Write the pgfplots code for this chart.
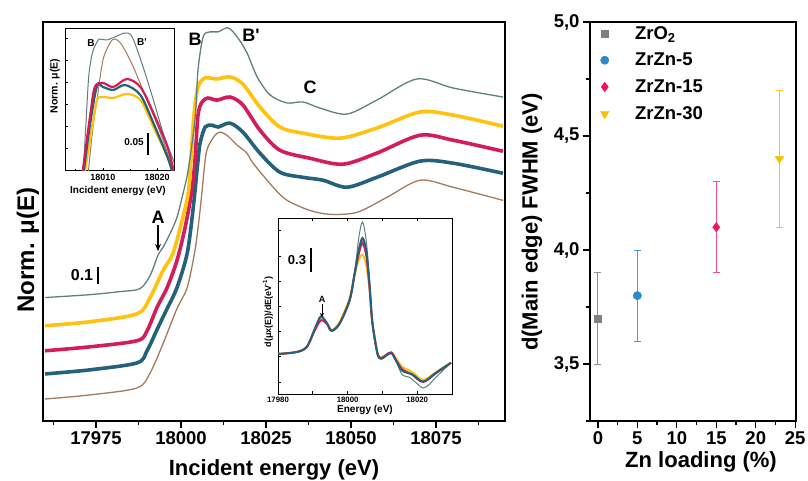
\documentclass[border=0pt]{standalone}
\usepackage{pgfplots}
\pgfplotsset{compat=1.18}
\usepackage{fontspec}
\setmainfont{Liberation Sans}
\usetikzlibrary{arrows.meta}
\definecolor{cgray}{HTML}{5F7F80}
\definecolor{cyel}{HTML}{FFC20E}
\definecolor{ccrim}{HTML}{D41C5A}
\definecolor{cteal}{HTML}{24617A}
\definecolor{cbrown}{HTML}{A47A5C}
\definecolor{pgray}{HTML}{808080}
\definecolor{pblue}{HTML}{2A8BC6}
\definecolor{pred}{HTML}{F2145C}
\definecolor{pyel}{HTML}{F6C200}
\begin{document}
\begin{tikzpicture}[x=1pt,y=1pt]
\useasboundingbox (0,0) rectangle (808,480);
\pgfplotsset{every axis/.append style={scale only axis, anchor=south west,
  /pgf/number format/assume math mode=true, clip=true}}
% ---------------- main panel ----------------
\begin{axis}[at={(43pt,59pt)}, width=462pt, height=399pt,
  xmin=17959.4, xmax=18095.3, ymin=0, ymax=2.34,
  ytick=\empty, xtick={17975,18000,18025,18050,18075},
  minor xtick={17962.5,17987.5,18012.5,18037.5,18062.5,18087.5},
  xtick pos=left, tick align=outside, major tick length=7pt, minor tick length=4pt,
  every tick/.style={black, line width=1.3pt},
  axis line style={line width=1.6pt},
  xticklabel style={font=\fontsize{18.5}{20}\selectfont\bfseries, /pgf/number format/1000 sep={}},
  scaled x ticks=false]
\addplot[cbrown, line width=1.3pt, smooth] coordinates {
(17960.0,0.129) (17973.2,0.153) (17987.1,0.194) (17990.9,0.282) (17994.7,0.453)
(17998.8,0.659) (18001.8,0.782) (18004.1,1.000) (18005.6,1.235) (18007.1,1.529)
(18007.9,1.606) (18010.0,1.676) (18011.5,1.694) (18013.5,1.676) (18016.5,1.618)
(18019.4,1.571) (18021.2,1.512) (18027.1,1.371) (18031.2,1.294) (18037.9,1.235)
(18043.8,1.212) (18051.8,1.224) (18060.6,1.312) (18070.3,1.412) (18080.0,1.371)
(18094.7,1.294)};
\addplot[cteal, line width=3.6pt, smooth] coordinates {
(17960.0,0.276) (17973.2,0.300) (17987.1,0.341) (17990.0,0.412) (17993.2,0.547)
(17995.9,0.659) (17998.8,0.782) (18001.8,0.982) (18003.5,1.235) (18005.0,1.529)
(18005.6,1.629) (18007.1,1.724) (18009.1,1.735) (18010.9,1.724) (18014.4,1.747)
(18018.2,1.694) (18023.2,1.571) (18029.1,1.459) (18035.9,1.429) (18041.8,1.412)
(18048.8,1.371) (18057.6,1.429) (18070.3,1.524) (18080.0,1.512) (18094.7,1.453)};
\addplot[ccrim, line width=3.6pt, smooth] coordinates {
(17960.0,0.412) (17973.2,0.435) (17987.1,0.471) (17990.0,0.529) (17992.9,0.665)
(17995.9,0.782) (17998.8,0.941) (18001.2,1.135) (18003.2,1.353) (18004.1,1.529)
(18005.0,1.794) (18006.2,1.871) (18007.9,1.894) (18010.6,1.882) (18014.4,1.900)
(18018.2,1.853) (18023.2,1.706) (18029.1,1.588) (18037.9,1.541) (18047.6,1.506)
(18057.6,1.571) (18070.3,1.676) (18080.0,1.647) (18094.7,1.582)};
\addplot[cyel, line width=3.6pt, smooth] coordinates {
(17960.0,0.559) (17973.2,0.582) (17987.1,0.629) (17990.9,0.724) (17994.7,0.882)
(17997.6,0.982) (18000.3,1.176) (18002.1,1.335) (18002.9,1.529) (18003.8,1.794)
(18005.0,1.959) (18007.1,2.012) (18010.6,2.006) (18014.4,2.018) (18018.2,1.976)
(18023.2,1.841) (18029.1,1.724) (18035.9,1.688) (18046.8,1.659) (18057.6,1.718)
(18070.3,1.812) (18080.0,1.794) (18094.7,1.729)};
\addplot[cgray, line width=1.3pt, smooth] coordinates {
(17960.0,0.724) (17973.2,0.741) (17982.1,0.759) (17987.9,0.776) (17990.9,0.853)
(17993.2,0.971) (17994.7,1.018) (17996.8,1.100) (17998.8,1.194) (18000.6,1.335)
(18002.1,1.471) (18004.1,1.765) (18005.0,2.059) (18006.5,2.253) (18008.5,2.282)
(18010.9,2.282) (18013.8,2.306) (18016.5,2.253) (18019.4,2.159) (18022.4,2.018)
(18026.2,1.912) (18031.2,1.865) (18035.9,1.871) (18040.9,1.835) (18048.8,1.800)
(18057.6,1.882) (18069.4,2.006) (18080.0,1.953) (18094.7,1.900)};
\end{axis}
% ---------------- upper inset ----------------
\begin{axis}[at={(65pt,309pt)}, width=109pt, height=142pt,
  xmin=18003, xmax=18023.1, ymin=0, ymax=0.355,
  axis background/.style={fill=white},
  xtick={18010,18020}, minor xtick={18005,18015},
  ytick={0.0575,0.1125,0.1675,0.2225,0.2775,0.3325}, yticklabels={},
  xtick pos=left, ytick pos=left, tick align=inside,
  major tick length=3pt, minor tick length=2pt,
  every tick/.style={black, line width=0.7pt},
  axis line style={line width=1pt},
  xticklabel style={font=\fontsize{9}{10}\selectfont\bfseries, /pgf/number format/1000 sep={}},
  scaled x ticks=false]
\addplot[cbrown, line width=1pt, smooth] coordinates {
(18007.2,-0.0175) (18008.1,0.1025) (18008.9,0.1775) (18010.0,0.2775) (18011.3,0.32)
(18012.2,0.33) (18013.5,0.315) (18015.6,0.26) (18018.1,0.1775) (18020.6,0.095) (18022.8,0.01) (18023.5,-0.01)};
\addplot[cgray, line width=1pt, smooth] coordinates {
(18006.3,-0.0175) (18006.9,0.1275) (18007.4,0.24) (18008.1,0.2975) (18008.9,0.3225)
(18009.4,0.33) (18010.7,0.3275) (18012.6,0.3375) (18014.1,0.345) (18015.4,0.335)
(18017.4,0.26) (18019.3,0.1775) (18021.1,0.095) (18023.1,0.0225) (18023.6,0.0)};
\addplot[cyel, line width=2.2pt, smooth] coordinates {
(18006.5,-0.0175) (18008.0,0.11) (18008.9,0.1775) (18010.0,0.185) (18011.9,0.1825)
(18014.4,0.1925) (18016.9,0.1775) (18019.3,0.11) (18021.9,0.035) (18022.8,0.0025) (18023.3,-0.01)};
\addplot[cteal, line width=2.2pt, smooth] coordinates {
(18006.3,-0.0175) (18007.6,0.115) (18008.9,0.2125) (18010.0,0.21) (18011.9,0.2025)
(18014.1,0.215) (18016.9,0.19) (18019.3,0.12) (18021.9,0.035) (18022.8,-0.0025) (18023.3,-0.015)};
\addplot[ccrim, line width=2.2pt, smooth] coordinates {
(18006.1,-0.0175) (18007.6,0.135) (18008.5,0.21) (18010.0,0.22) (18011.9,0.21)
(18014.4,0.23) (18016.9,0.21) (18019.3,0.145) (18021.9,0.06) (18023.1,-0.0025) (18023.5,-0.015)};
\end{axis}
% ---------------- lower inset ----------------
\begin{axis}[at={(278pt,86pt)}, width=174pt, height=176pt,
  xmin=17980, xmax=18030, ymin=0, ymax=2.2,
  axis background/.style={fill=white},
  xtick={17980,18000,18020}, minor xtick={17990,18010,18030},
  ytick={0.15,0.465,0.78,1.095,1.41,1.725,2.04}, yticklabels={},
  xtick pos=both, ytick pos=left, tick align=inside,
  major tick length=3pt, minor tick length=3pt,
  every tick/.style={black, line width=0.7pt},
  axis line style={line width=1pt},
  xticklabel style={font=\fontsize{7.8}{9}\selectfont\bfseries, /pgf/number format/1000 sep={}},
  scaled x ticks=false]
\addplot[cgray, line width=1pt, smooth] coordinates {
(17980,0.5) (17985.4,0.525) (17988.3,0.59) (17990.6,0.8) (17992.3,0.94) (17994.0,0.88)
(17995.4,0.79) (17997.7,0.88) (18000.6,1.17) (18002.0,1.5) (18003.2,1.95) (18004.3,2.15)
(18005.4,1.9) (18006.3,1.4) (18007.1,0.9) (18008.6,0.5) (18009.7,0.44) (18011.1,0.48)
(18012.6,0.51) (18014.0,0.4) (18015.7,0.24) (18017.7,0.21) (18019.7,0.14) (18021.7,0.075)
(18023.5,0.12) (18025.4,0.21) (18029.7,0.39)};
\addplot[cyel, line width=2pt, smooth] coordinates {
(17980,0.5) (17985.4,0.525) (17988.3,0.59) (17990.6,0.8) (17992.3,0.93) (17994.0,0.89)
(17995.4,0.8) (17997.7,0.9) (18000.6,1.2) (18002.0,1.48) (18003.2,1.68) (18004.3,1.74)
(18005.4,1.6) (18006.3,1.3) (18007.1,0.9) (18008.6,0.52) (18009.7,0.46) (18011.1,0.49)
(18012.6,0.52) (18014.0,0.44) (18015.7,0.34) (18018.6,0.275) (18021.7,0.175)
(18025.4,0.275) (18029.7,0.39)};
\addplot[ccrim, line width=2pt, smooth] coordinates {
(17980,0.5) (17985.4,0.525) (17988.3,0.59) (17990.6,0.8) (17992.3,0.92) (17994.0,0.88)
(17995.4,0.79) (17997.7,0.88) (18000.6,1.18) (18002.0,1.5) (18003.2,1.75) (18004.3,1.89)
(18005.4,1.72) (18006.3,1.35) (18007.1,0.9) (18008.6,0.5) (18009.7,0.45) (18011.1,0.49)
(18012.6,0.52) (18014.0,0.42) (18015.7,0.31) (18018.6,0.24) (18021.7,0.15)
(18025.4,0.26) (18029.7,0.39)};
\addplot[cteal, line width=2pt, smooth] coordinates {
(17980,0.5) (17985.4,0.525) (17988.3,0.59) (17990.6,0.82) (17992.3,0.97) (17994.0,0.89)
(17995.4,0.79) (17997.7,0.88) (18000.6,1.17) (18002.0,1.5) (18003.2,1.8) (18004.3,1.95)
(18005.4,1.78) (18006.3,1.37) (18007.1,0.9) (18008.6,0.5) (18009.7,0.44) (18011.1,0.48)
(18012.6,0.51) (18014.0,0.41) (18015.7,0.29) (18018.6,0.245) (18021.7,0.155)
(18025.4,0.265) (18029.7,0.39)};
\end{axis}
% ---------------- right panel ----------------
\begin{axis}[at={(590pt,59pt)}, width=206pt, height=399pt,
  xmin=-1, xmax=25.1, ymin=3.25, ymax=5.0,
  xtick={0,5,10,15,20,25}, minor xtick={2.5,7.5,12.5,17.5,22.5},
  ytick={3.5,4,4.5,5}, minor ytick={3.25,3.75,4.25,4.75},
  xtick pos=left, ytick pos=left, tick align=outside,
  major tick length=7pt, minor tick length=4pt,
  every tick/.style={black, line width=1.3pt},
  axis line style={line width=1.6pt},
  ticklabel style={font=\fontsize{18.5}{20}\selectfont\bfseries},
  yticklabel style={/pgf/number format/.cd, fixed, fixed zerofill, precision=1, use comma},
  legend style={at={(0.035,1.0)}, anchor=north west, draw=none, fill=none,
    font=\fontsize{18.5}{20}\selectfont\bfseries, row sep=8.5pt,
    /tikz/every odd column/.append style={column sep=24pt}},
  legend cell align=left]
\addplot[only marks, mark=square*, mark size=3.5pt, color=pgray,
  error bars/.cd, y dir=both, y explicit,
  error bar style={color=pgray!90, line width=1pt},
  error mark options={rotate=90, mark size=3.5pt, line width=1pt, color=pgray!90}]
  coordinates {(0,3.7) +- (0,0.2)};
\addplot[only marks, mark=*, mark size=4.2pt, color=pblue,
  error bars/.cd, y dir=both, y explicit,
  error bar style={color=pblue!85, line width=1pt},
  error mark options={rotate=90, mark size=3.5pt, line width=1pt, color=pblue!85}]
  coordinates {(5,3.8) +- (0,0.2)};
\addplot[only marks, mark=diamond*, mark size=4.8pt, color=pred,
  error bars/.cd, y dir=both, y explicit,
  error bar style={color=pred!75, line width=1pt},
  error mark options={rotate=90, mark size=3.5pt, line width=1pt, color=pred!75}]
  coordinates {(15,4.1) +- (0,0.2)};
\addplot[only marks, mark=triangle*, mark options={rotate=180}, mark size=5pt, color=pyel,
  error bars/.cd, y dir=both, y explicit,
  error bar style={color=pyel!90, line width=1pt},
  error mark options={rotate=90, mark size=3.5pt, line width=1pt, color=pyel!90}]
  coordinates {(23,4.4) +- (0,0.3)};
\legend{ZrO\textsubscript{2}, ZrZn-5, ZrZn-15, ZrZn-30}
\end{axis}
% ---------------- labels and annotations ----------------
\node[rotate=90, font=\fontsize{24}{26}\selectfont\bfseries] at (28,230) {Norm. μ(E)};
\node[anchor=base, font=\fontsize{22}{24}\selectfont\bfseries] at (274,5) {Incident energy (eV)};
\node[anchor=base, font=\fontsize{22}{24}\selectfont\bfseries] at (701,13) {Zn loading (\%)};
\node[rotate=90, font=\fontsize{22}{24}\selectfont\bfseries] at (532,258) {d(Main edge) FWHM (eV)};
\node[font=\fontsize{18}{20}\selectfont\bfseries] at (195,441) {B};
\node[font=\fontsize{18}{20}\selectfont\bfseries] at (251,445) {B\textquotesingle};
\node[font=\fontsize{18}{20}\selectfont\bfseries] at (310,393) {C};
\node[font=\fontsize{18}{20}\selectfont\bfseries] at (158,263) {A};
\draw[-{Stealth[length=7pt,width=6pt]}, line width=1.3pt] (158,255) -- (158,229);
\node[font=\fontsize{16}{18}\selectfont\bfseries] at (82,205) {0.1};
\draw[line width=1.2pt] (98,196) -- (98,213);
% upper inset annotations
\node[rotate=90, font=\fontsize{10.5}{12}\selectfont\bfseries] at (55,394) {Norm. μ(E)};
\node[font=\fontsize{10}{12}\selectfont\bfseries] at (118,289) {Incident energy (eV)};
\node[font=\fontsize{10}{12}\selectfont\bfseries] at (91,437) {B};
\node[font=\fontsize{10}{12}\selectfont\bfseries] at (142,438) {B\textquotesingle};
\node[font=\fontsize{10}{12}\selectfont\bfseries] at (134,338) {0.05};
\draw[line width=1.2pt] (148,325) -- (148,347);
% lower inset annotations
\node[rotate=90, font=\fontsize{9}{10}\selectfont\bfseries] at (268,168) {d(μx(E))/dE(eV\textsuperscript{-1})};
\node[font=\fontsize{10}{12}\selectfont\bfseries] at (365,70) {Energy (eV)};
\node[font=\fontsize{13}{14}\selectfont\bfseries] at (297,220) {0.3};
\draw[line width=1.2pt] (311,208) -- (311,232);
\node[font=\fontsize{9}{10}\selectfont\bfseries] at (322,181) {A};
\draw[-{Stealth[length=4pt,width=4pt]}, line width=0.9pt] (322,176) -- (322,163);
\end{tikzpicture}
\end{document}
